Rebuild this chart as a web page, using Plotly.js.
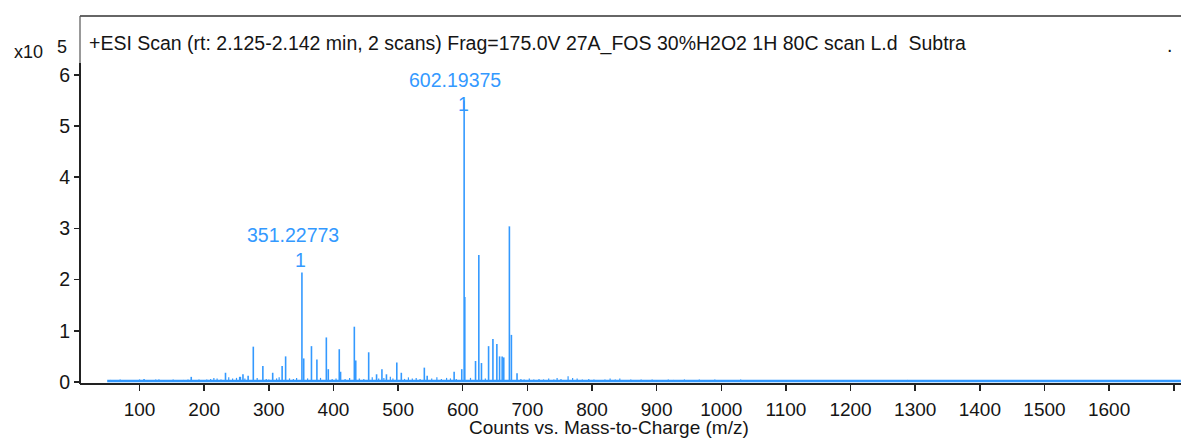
<!DOCTYPE html>
<html>
<head>
<meta charset="utf-8">
<script src="https://cdn.plot.ly/plotly-3.0.1.min.js"></script>
<style>html,body{margin:0;padding:0;background:#fff;overflow:hidden}#chart{width:1181px;height:439px}</style>
</head>
<body>
<div id="chart"></div>
<script>
// Intensities in units of x10^5 counts
const peakMz = [276, 290.8, 306, 320.6, 326, 351.23, 354, 366, 374.4, 389, 392, 409, 411, 432.3, 434.5, 454.5, 466.7, 475, 482, 498, 505, 540.6, 545, 586.7, 598.5, 602.19, 603.2, 619.8, 624.9, 629, 640, 646.7, 652.8, 657, 661, 663.5, 672.2, 675.3, 684, 233, 256, 268, 180, 107, 130, 260, 255];
const peakInt = [0.69, 0.31, 0.18, 0.31, 0.50, 2.14, 0.46, 0.70, 0.44, 0.87, 0.25, 0.64, 0.20, 1.08, 0.42, 0.58, 0.15, 0.25, 0.15, 0.38, 0.18, 0.28, 0.12, 0.20, 0.25, 5.50, 1.66, 0.41, 2.48, 0.37, 0.70, 0.84, 0.74, 0.50, 0.50, 0.48, 3.04, 0.92, 0.17, 0.18, 0.10, 0.12, 0.10, 0.06, 0.05, 0.15, 0.10];

const noiseMz = [55,62,70,78,85,93,100,112,118,125,138,145,152,160,168,175,186,192,198,204,210,215,220,226,238,244,250,263,282,296,300,312,316,332,338,343,360,380,398,404,418,425,440,447,460,470,478,488,492,510,516,522,528,534,552,560,567,575,581,590,612,635,690,695,703,710,718,725,733,741,746,752,763,770,777,785,795,803,812,820,828,836,843,852,860,868,876,885,893,900,910,918,926,935,943,950,958,966,975,983,990,1000,1010,1020,1030,1040,1050,1062,1075,1088,1100,1112,1125,1138,1150,1162,1175,1188,1200,1212,1225,1238,1250,1262,1275,1288,1300,1312,1325,1338,1350,1362,1375,1388,1400,1412,1425,1438,1450,1462,1475,1488,1500,1512,1525,1538,1550,1562,1575,1588,1600,1612,1625,1638,1650,1662,1675,1688,1700];
const noiseInt = [0.04,0.03,0.05,0.03,0.04,0.03,0.05,0.04,0.03,0.05,0.03,0.04,0.05,0.03,0.04,0.05,0.04,0.05,0.03,0.05,0.06,0.08,0.07,0.05,0.09,0.07,0.08,0.07,0.08,0.06,0.05,0.07,0.09,0.07,0.06,0.08,0.07,0.08,0.06,0.07,0.06,0.08,0.07,0.06,0.09,0.07,0.08,0.10,0.07,0.06,0.09,0.07,0.08,0.06,0.07,0.09,0.06,0.08,0.07,0.06,0.08,0.07,0.06,0.05,0.07,0.05,0.06,0.05,0.07,0.05,0.08,0.06,0.11,0.08,0.07,0.05,0.06,0.05,0.04,0.05,0.07,0.05,0.07,0.04,0.05,0.04,0.05,0.04,0.05,0.04,0.04,0.05,0.04,0.04,0.05,0.04,0.04,0.05,0.04,0.04,0.05,0.04,0.04,0.03,0.05,0.04,0.03,0.04,0.04,0.03,0.04,0.03,0.04,0.03,0.03,0.04,0.03,0.04,0.03,0.04,0.03,0.03,0.04,0.03,0.03,0.04,0.03,0.03,0.04,0.03,0.03,0.04,0.03,0.03,0.04,0.03,0.03,0.03,0.04,0.03,0.03,0.04,0.03,0.03,0.03,0.04,0.03,0.03,0.03,0.03,0.04,0.03,0.03,0.03,0.03];

const baseMz = [50, 1711];
const baseInt = [0.02, 0.02];

const xTickVals = [100,200,300,400,500,600,700,800,900,1000,1100,1200,1300,1400,1500,1600,1700];
const xTickText = ["100","200","300","400","500","600","700","800","900","1000","1100","1200","1300","1400","1500","1600",""];
const yTickVals = [0,1,2,3,4,5,6];
const yTickText = ["0","1","2","3","4","5","6"];

const labelMz = [351.23, 602.19];
const labelText = ["351.22773", "602.19375"];
const labelInt = [2.14, 5.50];

const titleText = "+ESI Scan (rt: 2.125-2.142 min, 2 scans) Frag=175.0V 27A_FOS 30%H2O2 1H 80C scan L.d  Subtra";
const xTitle = "Counts vs. Mass-to-Charge (m/z)";

const BLUE = "#3399ff";
const INK = "#151515";
const FONT = "Liberation Sans, Arial, sans-serif";
const FS = 19.5;

function sticks(mz, it) {
  const xs = [], ys = [];
  for (let i = 0; i < mz.length; i++) { xs.push(mz[i], mz[i], null); ys.push(0, it[i], null); }
  return {xs, ys};
}
const n = sticks(noiseMz, noiseInt);
const p = sticks(peakMz, peakInt);

const traces = [
  {x: baseMz, y: baseInt, mode: "lines", line: {color: BLUE, width: 2.5}, hoverinfo: "skip"},
  {x: n.xs, y: n.ys, mode: "lines", line: {color: BLUE, width: 1.2}, hoverinfo: "skip"},
  {x: p.xs, y: p.ys, mode: "lines", line: {color: BLUE, width: 1.6}, hoverinfo: "skip"}
];

const annotations = [];
for (let i = 0; i < labelMz.length; i++) {
  annotations.push({x: labelMz[i], y: labelInt[i], xref: "x", yref: "y", text: labelText[i], showarrow: false,
    xanchor: "center", yanchor: "middle", xshift: -9, yshift: i === 0 ? 37 : 20,
    font: {family: FONT, size: FS, color: BLUE}});
  annotations.push({x: labelMz[i], y: labelInt[i], xref: "x", yref: "y", text: "1", showarrow: false,
    xanchor: "center", yanchor: "middle", xshift: -1, yshift: i === 0 ? 12 : -4,
    font: {family: FONT, size: FS, color: BLUE}});
}
annotations.push({xref: "paper", yref: "paper", x: 0.0064, y: 0.924, xanchor: "left", yanchor: "middle",
  text: titleText, showarrow: false, font: {family: FONT, size: FS, color: INK}});
annotations.push({xref: "paper", yref: "paper", x: 0.990, y: 0.92, xanchor: "center", yanchor: "middle",
  text: ".", showarrow: false, font: {family: FONT, size: FS, color: INK}});
annotations.push({xref: "paper", yref: "paper", x: -0.0472, y: 0.902, xanchor: "center", yanchor: "middle",
  text: "x10", showarrow: false, font: {family: FONT, size: 18, color: INK}});
annotations.push({xref: "paper", yref: "paper", x: -0.0163, y: 0.9155, xanchor: "center", yanchor: "middle",
  text: "5", showarrow: false, font: {family: FONT, size: 18, color: INK}});
annotations.push({xref: "paper", yref: "paper", x: 0.4805, y: -0.1225, xanchor: "center", yanchor: "middle",
  text: xTitle, showarrow: false, font: {family: FONT, size: 19, color: INK}});

const layout = {
  width: 1181, height: 439,
  margin: {l: 80, r: 0, t: 16, b: 56, pad: 0},
  paper_bgcolor: "#fff", plot_bgcolor: "#fff",
  showlegend: false,
  xaxis: {range: [7.9, 1711.2], tickmode: "array", tickvals: xTickVals, ticktext: xTickText,
    ticks: "outside", ticklen: 6, tickwidth: 1.5, tickcolor: "#222",
    showline: true, linecolor: "#222", linewidth: 2, showgrid: false, zeroline: false,
    ticklabelstandoff: 2,
    tickfont: {family: FONT, size: 19, color: INK}},
  yaxis: {range: [-0.02, 7.15], tickmode: "array", tickvals: yTickVals, ticktext: yTickText,
    ticks: "outside", ticklen: 5, tickwidth: 1.5, tickcolor: "#222",
    showline: false, showgrid: false, zeroline: false,
    tickfont: {family: FONT, size: FS, color: INK}},
  annotations: annotations,
  shapes: [
    {type: "line", xref: "paper", yref: "paper", x0: 0, x1: 1, y0: 1, y1: 1, line: {color: "#333", width: 1.5}},
    {type: "line", xref: "paper", yref: "paper", x0: 0, x1: 0, y0: 0.872, y1: 1, line: {color: "#555", width: 1.2}},
    {type: "line", xref: "paper", yref: "paper", x0: 0, x1: 0, y0: -0.003, y1: 0.872, line: {color: "#222", width: 2}}
  ]
};

Plotly.newPlot("chart", traces, layout, {staticPlot: true, displayModeBar: false});
</script>
</body>
</html>
